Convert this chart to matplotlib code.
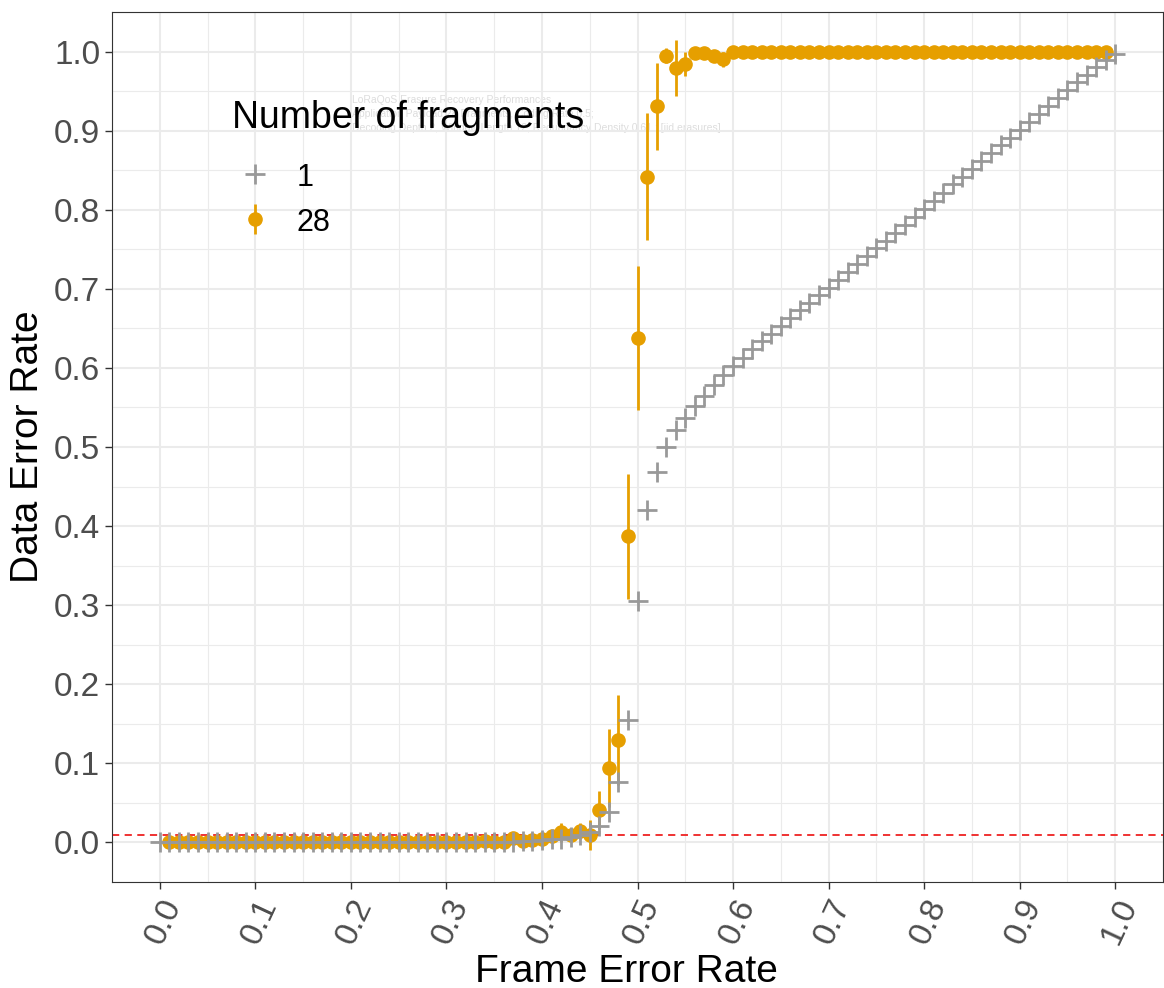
import matplotlib
matplotlib.use("Agg")
import matplotlib.pyplot as plt

plt.rcParams["font.family"] = ["Liberation Sans", "DejaVu Sans"]

# frame error rate values for the two series
fer_1 = [0.00, 0.01, 0.02, 0.03, 0.04, 0.05, 0.06, 0.07, 0.08, 0.09,
         0.10, 0.11, 0.12, 0.13, 0.14, 0.15, 0.16, 0.17, 0.18, 0.19,
         0.20, 0.21, 0.22, 0.23, 0.24, 0.25, 0.26, 0.27, 0.28, 0.29,
         0.30, 0.31, 0.32, 0.33, 0.34, 0.35, 0.36, 0.37, 0.38, 0.39,
         0.40, 0.41, 0.42, 0.43, 0.44, 0.45, 0.46, 0.47, 0.48, 0.49,
         0.50, 0.51, 0.52, 0.53, 0.54, 0.55, 0.56, 0.57, 0.58, 0.59,
         0.60, 0.61, 0.62, 0.63, 0.64, 0.65, 0.66, 0.67, 0.68, 0.69,
         0.70, 0.71, 0.72, 0.73, 0.74, 0.75, 0.76, 0.77, 0.78, 0.79,
         0.80, 0.81, 0.82, 0.83, 0.84, 0.85, 0.86, 0.87, 0.88, 0.89,
         0.90, 0.91, 0.92, 0.93, 0.94, 0.95, 0.96, 0.97, 0.98, 0.99,
         1.00]
der_1 = [0, 0, 0, 0, 0, 0, 0, 0, 0, 0,
         0, 0, 0, 0, 0, 0, 0, 0, 0, 0,
         0, 0, 0, 0, 0, 0, 0, 0, 0, 0,
         0, 0, 0, 0, 0, 0, 0.001, 0.001, 0.002, 0.002,
         0.003, 0.004, 0.005, 0.007, 0.009, 0.013, 0.021, 0.039, 0.077, 0.155,
         0.305, 0.420, 0.468, 0.500, 0.522, 0.537, 0.552, 0.565, 0.578, 0.591,
         0.602, 0.613, 0.624, 0.634, 0.643, 0.653, 0.663, 0.673, 0.682, 0.692,
         0.701, 0.711, 0.721, 0.731, 0.741, 0.751, 0.761, 0.771, 0.781, 0.791,
         0.801, 0.811, 0.821, 0.832, 0.842, 0.852, 0.862, 0.872, 0.882, 0.891,
         0.901, 0.911, 0.921, 0.931, 0.941, 0.951, 0.961, 0.970, 0.980, 0.989,
         0.997]

fer_28 = fer_1[1:100]
der_28 = [0, 0, 0, 0, 0, 0, 0, 0, 0,
          0, 0, 0, 0, 0, 0, 0, 0, 0, 0,
          0, 0, 0, 0, 0, 0, 0, 0, 0, 0,
          0, 0, 0, 0, 0.002, 0.001, 0.000, 0.006, 0.002, 0.003,
          0.004, 0.008, 0.013, 0.009, 0.015, 0.009, 0.041, 0.094, 0.130, 0.387,
          0.638, 0.842, 0.931, 0.995, 0.979, 0.984, 0.998, 0.998, 0.995, 0.990,
          1, 1, 1, 1, 1, 1, 1, 1, 1, 1,
          1, 1, 1, 1, 1, 1, 1, 1, 1, 1,
          1, 1, 1, 1, 1, 1, 1, 1, 1, 1,
          1, 1, 1, 1, 1, 1, 1, 1, 1, 1]
err_28 = [0, 0, 0, 0, 0, 0, 0, 0, 0,
          0, 0, 0, 0, 0, 0, 0, 0, 0, 0,
          0, 0, 0, 0, 0, 0, 0, 0, 0, 0,
          0, 0, 0, 0, 0, 0, 0, 0, 0, 0,
          0, 0.005, 0.012, 0.007, 0.010, 0.019, 0.024, 0.049, 0.057, 0.079,
          0.091, 0.080, 0.055, 0.010, 0.035, 0.015, 0.003, 0.003, 0.005, 0.010,
          0, 0, 0, 0, 0, 0, 0, 0, 0, 0,
          0, 0, 0, 0, 0, 0, 0, 0, 0, 0,
          0, 0, 0, 0, 0, 0, 0, 0, 0, 0,
          0, 0, 0, 0, 0, 0, 0, 0, 0, 0]

threshold = 0.01
tick_vals = [0.0, 0.1, 0.2, 0.3, 0.4, 0.5, 0.6, 0.7, 0.8, 0.9, 1.0]
minor_vals = [-0.05, 0.05, 0.15, 0.25, 0.35, 0.45, 0.55, 0.65, 0.75, 0.85, 0.95, 1.05]
note_lines = ["LoRaQoS Erasure Recovery Performances",
              "Application Payload 28 Fragments, Coding Rate 0.5;",
              "Decoding Depth 2, Window Length 12, Redundancy Density 0.61 ; [iid erasures]"]

gray = "#999999"
orange = "#E69F00"

W, H = 1164, 988
fig = plt.figure(figsize=(W / 100, H / 100), dpi=100)
ax = fig.add_axes([112 / W, 106 / H, 1051 / W, 870 / H])

ax.set_xlim(-0.05, 1.05)
ax.set_ylim(-0.05, 1.05)
ax.set_xticks(tick_vals)
ax.set_xticklabels([f"{v:.1f}" for v in tick_vals])
ax.set_yticks(tick_vals)
ax.set_yticklabels([f"{v:.1f}" for v in tick_vals])
ax.set_xticks(minor_vals, minor=True)
ax.set_yticks(minor_vals, minor=True)
ax.grid(which="major", color="#EBEBEB", lw=1.5)
ax.grid(which="minor", color="#EBEBEB", lw=0.8)
ax.set_axisbelow(True)
ax.tick_params(which="minor", length=0)
ax.tick_params(which="major", length=5, width=1, color="#333333",
               labelsize=24, labelcolor="#4D4D4D")
for s in ax.spines.values():
    s.set_color("#333333")
    s.set_linewidth(0.8)
plt.setp(ax.get_xticklabels(), rotation=65, ha="right", va="top",
         rotation_mode="anchor")

# faint caption text inside the panel
for i, line in enumerate(note_lines):
    ax.text(352, H - (100 + i * 14), line, transform=None, fontsize=7.5,
            color="#DDDDDD", va="center", ha="left", zorder=0.5)

ax.axhline(threshold, color="#EE2222", lw=1.3, ls=(0, (4, 3)), zorder=1)

eb = ax.errorbar(fer_28, der_28, yerr=err_28, fmt="o", color=orange,
                 ms=9.5, elinewidth=2, capsize=0, zorder=3, label="28")
pl, = ax.plot(fer_1, der_1, ls="none", marker="+", ms=15, mew=2,
              color=gray, zorder=4, label="1")

ax.set_xlabel("Frame Error Rate", fontsize=28)
ax.xaxis.set_label_coords(0.4895, (882 - 954) / 870)
ax.set_ylabel("Data Error Rate", fontsize=28)
ax.yaxis.set_label_coords((10 - 112) / 1051, 0.5)
ax.yaxis.label.set_va("top")

# legend: title as separate text, entries below it
ax.text(232, H - 118, "Number of fragments", transform=None, fontsize=27,
        ha="left", va="center")
leg = ax.legend([pl, eb], ["1", "28"], loc="upper left",
                bbox_to_anchor=((232 - 112) / 1051, (882 - 162) / 870),
                frameon=False, fontsize=22, borderpad=0,
                borderaxespad=0, handlelength=1.5, handletextpad=0.6,
                labelspacing=0.45, handleheight=1.0)

fig.savefig("out.png", dpi=100)
